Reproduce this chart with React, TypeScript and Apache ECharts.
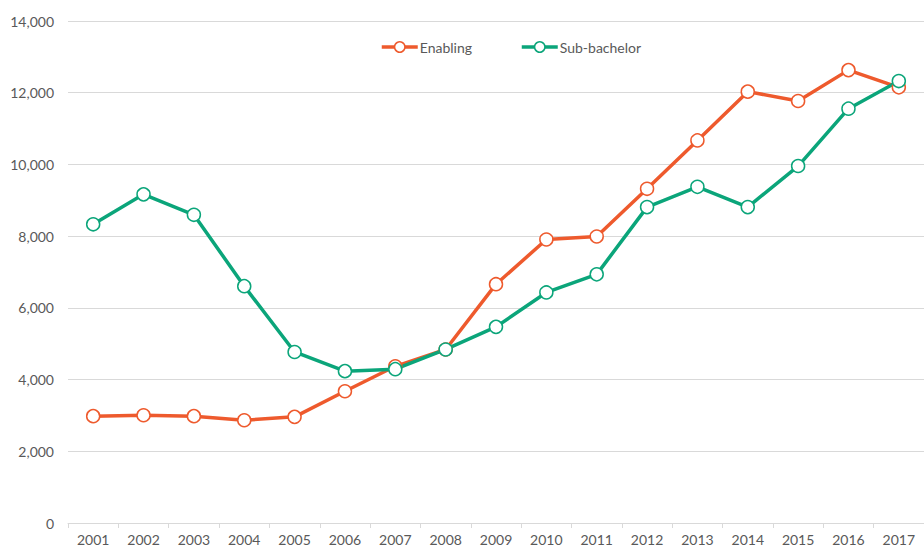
import React, { useEffect, useRef } from "react";
import * as echarts from "echarts";

const years = ["2001","2002","2003","2004","2005","2006","2007","2008","2009","2010","2011","2012","2013","2014","2015","2016","2017"];
const enabling = [2980, 3005, 2980, 2865, 2960, 3675, 4370, 4840, 6660, 7905, 7990, 9320, 10670, 12030, 11770, 12630, 12150];
const subBachelor = [8330, 9165, 8595, 6605, 4770, 4235, 4290, 4840, 5470, 6430, 6935, 8810, 9375, 8810, 9955, 11555, 12325];

const ORANGE = "#EE5A2D";
const GREEN = "#0BA57A";
const TEXT = "#595959";
const FONT = "Lato";

export default function App() {
  const ref = useRef<HTMLDivElement>(null);
  useEffect(() => {
    if (!ref.current) return;
    const chart = echarts.init(ref.current, undefined, { renderer: "svg" });
    const mk = (name: string, data: number[], color: string) => ({
      name,
      type: "line",
      data,
      symbol: "circle",
      symbolSize: 13,
      lineStyle: { color, width: 3.5 },
      itemStyle: { color: "#ffffff", borderColor: color, borderWidth: 1.5 },
      emphasis: { disabled: true },
    });
    chart.setOption({
      animation: false,
      textStyle: { fontFamily: FONT },
      legend: {
        left: 375,
        top: 35,
        itemWidth: 36,
        itemHeight: 13,
        itemGap: 48,
        textStyle: { color: TEXT, fontSize: 14, fontFamily: FONT, padding: [0, 0, 0, -3] },
        data: [
          { name: "Enabling", itemStyle: { color: "#fff", borderColor: ORANGE, borderWidth: 1.5 }, lineStyle: { color: ORANGE, width: 3.5 } },
          { name: "Sub-bachelor", itemStyle: { color: "#fff", borderColor: GREEN, borderWidth: 1.5 }, lineStyle: { color: GREEN, width: 3.5 } },
        ],
      },
      grid: { left: 68, top: 21, bottom: 25, width: 863, containLabel: false },
      xAxis: {
        type: "category",
        data: years,
        boundaryGap: true,
        axisLine: { lineStyle: { color: "#D9D9D9", width: 1 } },
        axisTick: { show: true, length: 5, lineStyle: { color: "#D9D9D9" } },
        axisLabel: { color: TEXT, fontSize: 14, margin: 9 },
      },
      yAxis: {
        type: "value",
        min: 0,
        max: 14000,
        interval: 2000,
        axisLine: { show: false },
        axisTick: { show: false },
        axisLabel: {
          color: TEXT,
          fontSize: 14,
          margin: 14,
          formatter: (v: number) => v.toLocaleString("en-US"),
        },
        splitLine: { lineStyle: { color: "#D9D9D9", width: 1 } },
      },
      series: [mk("Enabling", enabling, ORANGE), mk("Sub-bachelor", subBachelor, GREEN)],
    });
    return () => chart.dispose();
  }, []);
  return <div ref={ref} style={{ width: 924, height: 548, position: "absolute", left: 0, top: 0 }} />;
}
